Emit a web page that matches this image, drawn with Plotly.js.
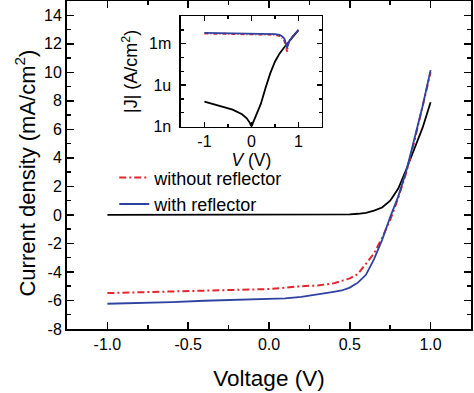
<!DOCTYPE html>
<html>
<head>
<meta charset="utf-8">
<script src="https://cdn.plot.ly/plotly-3.0.1.min.js"></script>
<style>html,body{margin:0;padding:0;background:#fff;}#chart{width:474px;height:393px;}</style>
</head>
<body>
<div id="chart"></div>
<script>
// ---- Main panel data (J in mA/cm^2) ----
const vDark = [-1.0, 0.0, 0.5, 0.55, 0.6, 0.65, 0.7, 0.75, 0.8, 0.85, 0.9, 0.95, 1.0];
const jDark = [0, 0, 0.04, 0.08, 0.15, 0.3, 0.52, 1.0, 1.85, 3.2, 4.6, 6.1, 7.9];

const vRed = [-1.0, -0.8, -0.6, -0.4, -0.2, 0.0, 0.2, 0.3, 0.4, 0.5, 0.55, 0.6, 0.65, 0.7, 0.75, 0.8, 0.85, 0.9, 0.95, 1.0];
const jRed = [-5.48, -5.42, -5.37, -5.3, -5.25, -5.2, -5.0, -4.95, -4.8, -4.45, -4.15, -3.45, -2.7, -1.6, -0.35, 1.2, 3.0, 5.2, 7.5, 10.0];

const vBlue = [-1.0, -0.8, -0.6, -0.4, -0.2, 0.0, 0.1, 0.2, 0.3, 0.4, 0.45, 0.5, 0.55, 0.6, 0.65, 0.7, 0.75, 0.8, 0.85, 0.9, 0.95, 1.0];
const jBlue = [-6.23, -6.18, -6.12, -6.02, -5.97, -5.9, -5.85, -5.75, -5.6, -5.4, -5.3, -5.1, -4.75, -4.2, -3.1, -1.75, -0.15, 1.3, 3.1, 5.3, 7.6, 10.15];

// ---- Inset data (|J| in A/cm^2) ----
const vInDark = [-1.0, -0.8, -0.6, -0.4, -0.2, -0.1, -0.03, 0.0, 0.03, 0.1, 0.2, 0.3, 0.4, 0.5, 0.6, 0.7, 0.8, 0.9, 1.0];
const jInDark = [6.5e-8, 4.0e-8, 2.6e-8, 1.7e-8, 7.9e-9, 4.0e-9, 1.8e-9, 0.9e-9, 1.8e-9, 6.3e-9, 4.4e-8, 6.3e-7, 7.1e-6, 5.0e-5, 2.0e-4, 5.6e-4, 1.4e-3, 3.8e-3, 9.5e-3];

const vInLight = [-1.0, -0.5, 0.0, 0.3, 0.5, 0.6, 0.65, 0.7, 0.74, 0.76, 0.78, 0.82, 0.88, 0.94, 1.0];
const jInRed  = [5.5e-3, 5.3e-3, 5.2e-3, 5.0e-3, 4.5e-3, 3.6e-3, 2.8e-3, 1.7e-3, 6.0e-4, 2.7e-4, 9.0e-4, 1.8e-3, 3.4e-3, 6.2e-3, 1.0e-2];
const jInBlue = [6.0e-3, 5.75e-3, 5.6e-3, 5.4e-3, 5.0e-3, 4.3e-3, 3.5e-3, 2.4e-3, 1.0e-3, 5.0e-4, 1.0e-3, 1.9e-3, 3.5e-3, 6.3e-3, 1.0e-2];

// ---- Tick labels ----
const xTickVals = [-1.0, -0.5, 0.0, 0.5, 1.0];
const xTickText = ['-1.0', '-0.5', '0.0', '0.5', '1.0'];
const yTickVals = [-8, -6, -4, -2, 0, 2, 4, 6, 8, 10, 12, 14];
const yTickText = ['-8', '-6', '-4', '-2', '0', '2', '4', '6', '8', '10', '12', '14'];
const inXTickVals = [-1, 0, 1];
const inXTickText = ['-1', '0', '1'];
const inYTickVals = [1e-9, 1e-6, 1e-3];
const inYTickText = ['1n', '1u', '1m'];
const inYMinorVals = [1e-8, 1e-7, 1e-5, 1e-4, 1e-2, 1e-1];

const RED = '#e3262b';
const BLUE = '#2e43a0';
const FONT = 'Liberation Sans, Arial, sans-serif';

const traces = [
  {x: vDark, y: jDark, type: 'scatter', mode: 'lines', line: {color: '#000', width: 1.8}, showlegend: false, xaxis: 'x', yaxis: 'y'},
  {x: vRed, y: jRed, type: 'scatter', mode: 'lines', name: 'without reflector', line: {color: RED, width: 2, dash: '7px,3px,2px,3px'}, xaxis: 'x', yaxis: 'y'},
  {x: vBlue, y: jBlue, type: 'scatter', mode: 'lines', name: 'with reflector', line: {color: BLUE, width: 1.8}, xaxis: 'x', yaxis: 'y'},
  {x: vInDark, y: jInDark, type: 'scatter', mode: 'lines', line: {color: '#000', width: 1.8}, showlegend: false, xaxis: 'x2', yaxis: 'y2'},
  {x: vInLight, y: jInRed, type: 'scatter', mode: 'lines', line: {color: RED, width: 2, dash: '4px,2px,1px,2px'}, showlegend: false, xaxis: 'x2', yaxis: 'y2'},
  {x: vInLight, y: jInBlue, type: 'scatter', mode: 'lines', line: {color: BLUE, width: 1.8}, showlegend: false, xaxis: 'x2', yaxis: 'y2'}
];

const axCommon = {
  showgrid: false, zeroline: false, showline: true, linecolor: '#000', linewidth: 2,
  mirror: 'allticks', ticks: 'inside', tickcolor: '#000', tickwidth: 1.5
};

const layout = {
  width: 474, height: 393,
  margin: {l: 67, r: 3, t: 1, b: 64},
  paper_bgcolor: '#fff', plot_bgcolor: '#fff',
  font: {family: FONT, color: '#000', size: 16},
  showlegend: true,
  legend: {x: 0.117, y: 0.517, xanchor: 'left', yanchor: 'top', bgcolor: 'rgba(0,0,0,0)', borderwidth: 0, font: {family: FONT, size: 18, color: '#000'}, tracegroupgap: 0},
  annotations: [{
    text: 'Current density (mA/cm<sup>2</sup>)', xref: 'paper', yref: 'paper',
    x: -0.104, y: 0.477, xanchor: 'center', yanchor: 'middle', textangle: -90,
    showarrow: false, font: {family: FONT, size: 22, color: '#000'}
  }],
  xaxis: Object.assign({}, axCommon, {
    range: [-1.25, 1.25], tickmode: 'array', tickvals: xTickVals, ticktext: xTickText, ticklen: 7,
    minor: {dtick: 0.25, tick0: 0, ticks: 'inside', ticklen: 4, tickcolor: '#000', tickwidth: 1.5},
    tickfont: {size: 16}, title: {text: 'Voltage (V)', font: {size: 22.5}, standoff: 18},
    domain: [0, 1], anchor: 'y'
  }),
  yaxis: Object.assign({}, axCommon, {
    range: [-8, 15], tickmode: 'array', tickvals: yTickVals, ticktext: yTickText, ticklen: 7,
    minor: {dtick: 1, tick0: 0, ticks: 'inside', ticklen: 4, tickcolor: '#000', tickwidth: 1.5},
    tickfont: {size: 16},
    domain: [0, 1], anchor: 'x'
  }),
  xaxis2: Object.assign({}, axCommon, {
    linewidth: 1.5, range: [-1.5, 1.5], tickmode: 'array', tickvals: inXTickVals, ticktext: inXTickText, ticklen: 5,
    minor: {dtick: 0.5, tick0: 0, ticks: 'inside', ticklen: 3, tickcolor: '#000', tickwidth: 1.2},
    tickfont: {size: 16}, title: {text: '<i>V</i> (V)', font: {size: 17.5}, standoff: 0},
    domain: [0.282, 0.631], anchor: 'y2'
  }),
  yaxis2: Object.assign({}, axCommon, {
    linewidth: 1.5, type: 'log', range: [-9, -1], tickmode: 'array', tickvals: inYTickVals, ticktext: inYTickText, ticklen: 5,
    minor: {tickmode: 'array', tickvals: inYMinorVals, ticks: 'inside', ticklen: 3, tickcolor: '#000', tickwidth: 1.2},
    tickfont: {size: 16}, ticklabelstandoff: 5,
    title: {text: '|J| (A/cm<sup>2</sup>)', font: {size: 18}, standoff: 6},
    domain: [0.617, 0.954], anchor: 'x2'
  })
};

Plotly.newPlot('chart', traces, layout, {displayModeBar: false, staticPlot: true});
</script>
</body>
</html>
